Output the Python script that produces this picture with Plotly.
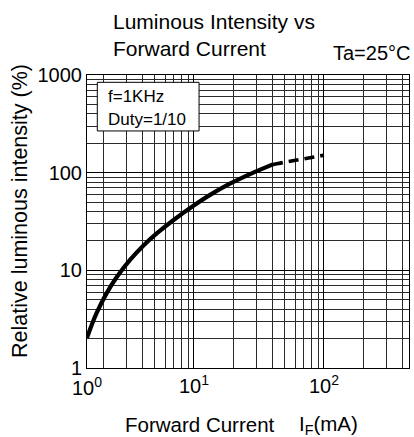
import plotly.graph_objects as go

# ---- data ----
current_solid = [1.5, 1.78, 2.13, 2.54, 3.22, 4.07, 5.17, 6.93, 9.9, 13.3, 18.9, 27, 40.5]
intensity_solid = [2.03, 3.64, 5.84, 8.5, 12.8, 17.9, 23.9, 32.6, 45.8, 59.2, 77.1, 96.7, 121.5]
current_dashed = [40.5, 100]
intensity_dashed = [121.5, 151]

x_tick_vals = [10, 100]
x_tick_text = ["10<sup>1</sup>", "10<sup>2</sup>"]
y_tick_vals = [1, 10, 100, 1000]
y_tick_text = ["1", "10", "100", "1000"]
grid_digits = [2, 3, 4, 5, 6, 7, 8, 9]
decades = [1, 10, 100]

x_range_log = [0.177, 2.654]
y_range_log = [0, 3]

x_minor = [d * m for m in decades for d in grid_digits if d * m < 10 ** x_range_log[1]]
y_minor = [d * m for m in decades for d in grid_digits]

FONT = "Liberation Sans, Arial, sans-serif"

fig = go.Figure()
fig.add_trace(go.Scatter(x=current_solid, y=intensity_solid, mode="lines",
                         line=dict(color="black", width=4.2, shape="spline", smoothing=1.0),
                         showlegend=False, hoverinfo="skip"))
fig.add_trace(go.Scatter(x=current_dashed, y=intensity_dashed, mode="lines",
                         line=dict(color="black", width=3.6, dash="10px,6px"),
                         showlegend=False, hoverinfo="skip"))

axis_common = dict(
    type="log", showline=True, mirror=True, linecolor="black", linewidth=1,
    showgrid=True, gridcolor="black", gridwidth=1, ticks="", zeroline=False,
    tickfont=dict(family=FONT, size=20, color="black"),
)

fig.update_xaxes(**axis_common, range=x_range_log, tickmode="array",
                 tickvals=x_tick_vals, ticktext=x_tick_text,
                 minor=dict(tickmode="array", tickvals=x_minor, showgrid=True,
                            gridcolor="#2a2a2a", gridwidth=1, ticks=""))
fig.update_yaxes(**axis_common, range=y_range_log, tickmode="array",
                 tickvals=y_tick_vals, ticktext=y_tick_text,
                 minor=dict(tickmode="array", tickvals=y_minor, showgrid=True,
                            gridcolor="#2a2a2a", gridwidth=1, ticks=""))

annotations = [
    # left-edge label of the original x axis
    dict(text="10<sup>0</sup>", xref="paper", yref="paper", x=0, y=0, xanchor="center",
         yanchor="top", yshift=-4, showarrow=False, font=dict(family=FONT, size=20, color="black")),
    dict(text="Luminous Intensity vs<br>Forward Current", xref="paper", yref="paper",
         x=0.075, y=1.138, xanchor="left", yanchor="middle", align="left", showarrow=False,
         font=dict(family=FONT, size=21, color="black")),
    dict(text="Ta=25°C", xref="paper", yref="paper", x=1.012, y=1.075, xanchor="right",
         yanchor="middle", showarrow=False, font=dict(family=FONT, size=20, color="black")),
    dict(text="Relative luminous intensity (%)", xref="paper", yref="paper", x=-0.208, y=0.536,
         xanchor="center", yanchor="middle", textangle=-90, showarrow=False,
         font=dict(family=FONT, size=21.5, color="black")),
    dict(text="Forward Current", xref="paper", yref="paper", x=0.112, y=-0.193,
         xanchor="left", yanchor="middle", showarrow=False,
         font=dict(family=FONT, size=20.5, color="black")),
    dict(text="I<sub>F</sub>(mA)", xref="paper", yref="paper", x=0.652, y=-0.193,
         xanchor="left", yanchor="middle", showarrow=False,
         font=dict(family=FONT, size=20.5, color="black")),
    dict(text="f=1KHz", xref="paper", yref="paper", x=0.059, y=0.926,
         xanchor="left", yanchor="middle", showarrow=False,
         font=dict(family=FONT, size=17, color="black")),
    dict(text="Duty=1/10", xref="paper", yref="paper", x=0.059, y=0.847,
         xanchor="left", yanchor="middle", showarrow=False,
         font=dict(family=FONT, size=17, color="black")),
]

fig.update_layout(
    width=414, height=437, autosize=False,
    margin=dict(l=87, r=5, t=75, b=69),
    plot_bgcolor="white", paper_bgcolor="white",
    font=dict(family=FONT, color="black"),
    annotations=annotations,
    shapes=[dict(type="rect", xref="paper", yref="paper", x0=0.032, x1=0.348, y0=0.809, y1=0.975,
                 fillcolor="white", line=dict(color="black", width=1), layer="above")],
)

fig.write_html("out.html", config={"displayModeBar": False},
               post_script="document.body.style.margin='0';")
